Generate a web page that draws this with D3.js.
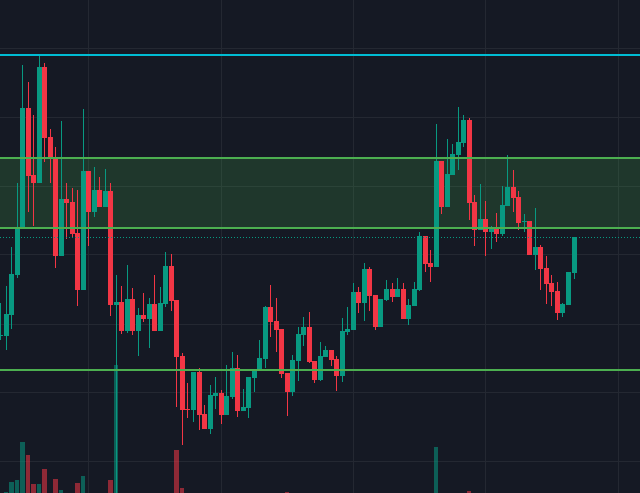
<!DOCTYPE html>
<html>
<head>
<meta charset="utf-8">
<script src="https://cdn.jsdelivr.net/npm/d3@7"></script>
<style>
  html, body { margin: 0; padding: 0; background: #151924; overflow: hidden; }
  svg { display: block; }
</style>
</head>
<body>
<svg id="chart" width="640" height="493"></svg>
<script>
const opens  = [160,164,164,185,225,271,392,325,317,433,363,342,244,301,298,267,210,329,288,310,293,309,195,198,169,201,169,185,181,196,169,196,234,200,144,91,90,128,86,71,104,107,85,103,132,89,92,122,130,141,193,179,171,127,108,139,165,173,139,120,143,150,141,124,168,170,208,197,231,205,173,200,211,203,211,181,194,210,264,237,233,339,293,325,345,357,380,298,270,281,268,271,266,294,313,303,278,279,245,253,232,217,209,187,195,227];
const highs  = [197,165,214,253,317,435,418,385,445,437,371,353,379,317,312,310,391,329,333,323,331,317,225,214,235,212,192,207,202,225,213,248,246,200,147,117,128,132,95,115,123,110,135,148,145,111,123,130,160,194,215,202,171,127,145,173,183,188,139,158,154,150,144,182,193,217,213,237,233,205,201,220,217,222,217,201,218,268,264,250,376,339,361,356,393,385,382,305,316,299,274,287,314,345,330,309,286,279,292,255,244,225,218,197,228,263];
const lows   = [160,164,150,171,222,271,288,274,317,338,317,232,244,261,262,194,210,254,283,293,293,184,0,166,167,165,144,178,152,169,169,193,189,93,55,82,78,70,71,66,91,76,85,101,83,89,82,108,130,132,163,148,122,84,104,119,154,137,117,119,143,134,109,118,165,170,187,179,189,170,173,199,198,203,181,175,194,209,228,218,233,286,293,325,330,353,280,254,270,244,251,258,264,294,288,270,268,245,230,210,196,194,180,183,195,221];
const closes = [197,165,186,226,272,392,324,317,433,362,341,244,301,297,266,210,329,288,310,293,309,195,198,169,201,169,185,181,196,169,197,234,199,143,90,90,128,85,71,105,107,85,104,132,89,93,123,130,142,193,178,170,126,108,140,166,173,138,120,144,150,140,124,169,171,208,197,231,204,173,201,211,203,211,181,195,211,264,236,233,339,293,326,346,358,380,297,270,281,268,271,266,295,313,302,277,279,245,253,231,216,208,187,196,228,263];

// candle numbers that show a volume bar, and their volumes
const volumeCandles = [1,2,3,4,5,6,7,8,10,11,14,15,20,21,32,33,52,79,85];
const volumeValues  = [1,11,13,51,38,9,9,24,14,3,10,17,13,128,43,5,1,46,2];

const gridPrices = [451,382.5,314,245,176,107.5,39];
const gridCandles = [16,40,64,88,112];

const resistance  = 445;
const zoneHigh    = 342;
const zoneLow     = 272;
const support     = 130;
const lastPrice   = 263;

const WIDTH = 640;
const HEIGHT = 493;
const BODY_WIDTH = 5;
const GREEN = "#089981";
const RED = "#f23645";

const svg = d3.select("#chart");

const y = d3.scaleLinear().domain([7, 500]).range([493, 0]);
const yVol = d3.scaleLinear().domain([0, 128]).range([493, 365]);
// candle number to left edge of the body
const x = d3.scaleLinear().domain([1, 104]).range([4, 572]);
const left = n => Math.floor(x(n));

// first entry is the cut off candle at the window edge
const candles = opens.map((o, i) => ({
  n: i === 0 ? -0.44 : i - 1,
  open: o, high: highs[i], low: lows[i], close: closes[i]
}));
const isUp = d => d.close >= d.open;

const crisp = svg.append("g").attr("shape-rendering", "crispEdges");

// grid
crisp.selectAll("line.hgrid").data(gridPrices).enter().append("line")
  .attr("x1", 0).attr("x2", WIDTH)
  .attr("y1", d => Math.floor(y(d)) + 0.5)
  .attr("y2", d => Math.floor(y(d)) + 0.5)
  .attr("stroke", "#242832");
crisp.selectAll("line.vgrid").data(gridCandles).enter().append("line")
  .attr("y1", 0).attr("y2", HEIGHT)
  .attr("x1", d => left(d) + 2.5)
  .attr("x2", d => left(d) + 2.5)
  .attr("stroke", "#242832");

// zone fill
crisp.append("rect")
  .attr("x", 0).attr("width", WIDTH)
  .attr("y", y(zoneHigh)).attr("height", y(zoneLow) - y(zoneHigh))
  .attr("fill", "#4caf50").attr("fill-opacity", 0.2);

// volume
crisp.selectAll("rect.vol").data(volumeCandles).enter().append("rect")
  .attr("x", n => left(n))
  .attr("width", n => left(n + 1) - 1 - left(n))
  .attr("y", (n, i) => yVol(volumeValues[i]))
  .attr("height", (n, i) => HEIGHT - yVol(volumeValues[i]))
  .attr("fill", n => isUp(candles[n + 1]) ? GREEN : RED)
  .attr("fill-opacity", 0.55);

// wicks
crisp.selectAll("rect.wick").data(candles).enter().append("rect")
  .attr("x", d => left(d.n) + 2)
  .attr("width", 1)
  .attr("y", d => y(d.high))
  .attr("height", d => y(d.low) - y(d.high))
  .attr("fill", d => isUp(d) ? GREEN : RED);

// bodies
crisp.selectAll("rect.body").data(candles).enter().append("rect")
  .attr("x", d => left(d.n))
  .attr("width", BODY_WIDTH)
  .attr("y", d => y(Math.max(d.open, d.close)))
  .attr("height", d => Math.max(1, Math.abs(y(d.open) - y(d.close))))
  .attr("fill", d => isUp(d) ? GREEN : RED);

// last price line
crisp.append("line")
  .attr("x1", 0).attr("x2", WIDTH)
  .attr("y1", y(lastPrice) + 0.5).attr("y2", y(lastPrice) + 0.5)
  .attr("stroke", GREEN)
  .attr("stroke-dasharray", "1,2");

// levels
[zoneHigh, zoneLow, support].forEach(p => {
  crisp.append("line")
    .attr("x1", 0).attr("x2", WIDTH)
    .attr("y1", y(p)).attr("y2", y(p))
    .attr("stroke", "#4caf50").attr("stroke-width", 2);
});
crisp.append("line")
  .attr("x1", 0).attr("x2", WIDTH)
  .attr("y1", y(resistance)).attr("y2", y(resistance))
  .attr("stroke", "#00bcd4").attr("stroke-width", 2);
</script>
</body>
</html>
